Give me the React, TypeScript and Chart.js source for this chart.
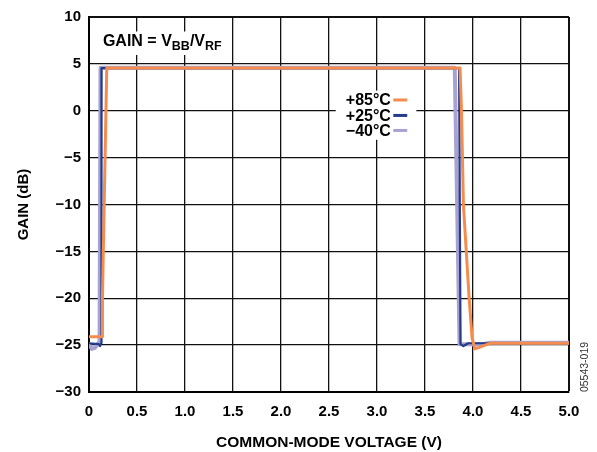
import React, { useEffect, useRef } from "react";
import { Chart, registerables } from "chart.js";
Chart.register(...registerables);

// Tick values and labels
const xTickValues = [0, 0.5, 1.0, 1.5, 2.0, 2.5, 3.0, 3.5, 4.0, 4.5, 5.0];
const xTickLabels = ["0", "0.5", "1.0", "1.5", "2.0", "2.5", "3.0", "3.5", "4.0", "4.5", "5.0"];
const yTickValues = [10, 5, 0, -5, -10, -15, -20, -25, -30];
const yTickLabels = ["10", "5", "0", "\u22125", "\u221210", "\u221215", "\u221220", "\u221225", "\u221230"];

// Series: +85°C
const t85X = [0, 0.14, 0.14, 0.185, 3.865, 3.88, 3.9, 3.96, 3.99, 4.02, 4.1, 4.18, 5.0];
const t85Y = [-24.1, -24.1, -20, 4.55, 4.55, 0, -10, -20, -24.2, -25.4, -25.1, -24.8, -24.8];
// Series: +25°C
const t25X = [0, 0.1, 0.115, 0.125, 0.13, 3.855, 3.87, 3.9, 3.95, 5.0];
const t25Y = [-24.8, -24.9, -25.1, -24.8, 4.55, 4.55, -24.9, -25.1, -24.8, -24.8];
// Series: −40°C
const tm40X = [0, 0.03, 0.06, 0.09, 0.11, 0.12, 3.81, 3.86, 4.1, 4.18, 5.0];
const tm40Y = [-24.9, -25.4, -25.3, -24.9, -24.6, 4.58, 4.58, -24.9, -24.9, -24.75, -24.75];

const seriesNames = ["+85\u00B0C", "+25\u00B0C", "\u221240\u00B0C"];
const seriesColors = ["#F58B4C", "#233C8C", "#A8A2D2"];

const toPts = (xs: number[], ys: number[]) => xs.map((x, i) => ({ x, y: ys[i] }));

const FONT = "'Liberation Sans', Arial, sans-serif";

const annotPlugin = {
  id: "annot",
  beforeDatasetsDraw(chart: any) {
    const { ctx } = chart;
    const xs = chart.scales.x;
    const ys = chart.scales.y;
    ctx.save();
    // Gain formula box
    ctx.fillStyle = "#ffffff";
    const gx0 = xs.getPixelForValue(0.06);
    const gx1 = xs.getPixelForValue(1.47);
    const gy0 = ys.getPixelForValue(8.45);
    const gy1 = ys.getPixelForValue(5.95);
    ctx.fillRect(gx0, gy0, gx1 - gx0, gy1 - gy0);
    // Legend box
    const lx0 = xs.getPixelForValue(2.57);
    const lx1 = xs.getPixelForValue(3.41);
    const ly0 = ys.getPixelForValue(2.15);
    const ly1 = ys.getPixelForValue(-3.1);
    ctx.fillRect(lx0, ly0, lx1 - lx0, ly1 - ly0);

    // Gain formula text
    ctx.fillStyle = "#000";
    ctx.textBaseline = "alphabetic";
    ctx.textAlign = "left";
    let tx = xs.getPixelForValue(0.145);
    const base = ys.getPixelForValue(6.95);
    const big = `bold 16px ${FONT}`;
    const small = `bold 12.5px ${FONT}`;
    const parts: [string, boolean][] = [["GAIN = V", false], ["BB", true], ["/V", false], ["RF", true]];
    for (const [t, sub] of parts) {
      ctx.font = sub ? small : big;
      ctx.fillText(t, tx, sub ? base + 4.5 : base);
      tx += ctx.measureText(t).width;
    }

    // Legend
    const rows = [1.15, -0.5, -2.1];
    ctx.font = `bold 16px ${FONT}`;
    ctx.textAlign = "right";
    ctx.textBaseline = "middle";
    const textRight = xs.getPixelForValue(3.145);
    const segA = xs.getPixelForValue(3.17);
    const segB = xs.getPixelForValue(3.315);
    rows.forEach((rv, i) => {
      const py = ys.getPixelForValue(rv);
      ctx.fillStyle = "#000";
      ctx.fillText(seriesNames[i], textRight, py + 1);
      ctx.strokeStyle = seriesColors[i];
      ctx.lineWidth = 3;
      ctx.beginPath();
      ctx.moveTo(segA, py);
      ctx.lineTo(segB, py);
      ctx.stroke();
    });
    ctx.restore();
  },
  afterDraw(chart: any) {
    const { ctx } = chart;
    ctx.save();
    ctx.translate(585, 367);
    ctx.rotate(-Math.PI / 2);
    ctx.font = `10.5px ${FONT}`;
    ctx.fillStyle = "#333";
    ctx.textAlign = "center";
    ctx.textBaseline = "middle";
    ctx.fillText("05543-019", 0, 0);
    ctx.restore();
  },
};

export default function App() {
  const ref = useRef<HTMLCanvasElement>(null);
  useEffect(() => {
    const chart = new Chart(ref.current as HTMLCanvasElement, {
      type: "scatter",
      data: {
        datasets: [
          { label: seriesNames[0], data: toPts(t85X, t85Y), borderColor: seriesColors[0], borderWidth: 3, order: 0 },
          { label: seriesNames[1], data: toPts(t25X, t25Y), borderColor: seriesColors[1], borderWidth: 2.2, order: 1 },
          { label: seriesNames[2], data: toPts(tm40X, tm40Y), borderColor: seriesColors[2], borderWidth: 4, order: 2 },
        ].map((d) => ({
          ...d,
          showLine: true,
          pointRadius: 0,
          tension: 0,
          fill: false,
          borderJoinStyle: "round" as const,
          borderCapStyle: "round" as const,
          backgroundColor: d.borderColor,
        })),
      },
      options: {
        animation: false,
        responsive: false,
        events: [],
        layout: { padding: { left: 0, right: 28, top: 9, bottom: 0 } },
        plugins: { legend: { display: false }, tooltip: { enabled: false } },
        scales: {
          x: {
            type: "linear",
            min: 0,
            max: 5,
            afterBuildTicks: (s: any) => {
              s.ticks = xTickValues.map((v) => ({ value: v }));
            },
            afterFit: (s: any) => {
              s.height = 60;
            },
            ticks: {
              autoSkip: false,
              maxRotation: 0,
              padding: 11,
              color: "#000",
              font: { family: FONT, size: 15, weight: "bold" },
              callback: (v: any) => {
                const i = xTickValues.indexOf(Number(v));
                return i >= 0 ? xTickLabels[i] : "";
              },
            },
            grid: {
              color: "#111",
              lineWidth: (c: any) => (c.tick && c.tick.value === 5 ? 2 : 1.3),
              drawTicks: false,
            },
            border: { color: "#000", width: 2 },
            title: {
              display: true,
              text: "COMMON-MODE VOLTAGE (V)",
              color: "#000",
              font: { family: FONT, size: 15.5, weight: "bold" },
              padding: { top: 0, bottom: 0 },
            },
          },
          y: {
            type: "linear",
            min: -30,
            max: 10,
            afterBuildTicks: (s: any) => {
              s.ticks = yTickValues.map((v) => ({ value: v }));
            },
            afterFit: (s: any) => {
              s.width = 89;
            },
            ticks: {
              autoSkip: false,
              padding: 8,
              color: "#000",
              font: { family: FONT, size: 15, weight: "bold" },
              callback: (v: any) => {
                const i = yTickValues.indexOf(Number(v));
                return i >= 0 ? yTickLabels[i] : "";
              },
            },
            grid: {
              color: "#111",
              lineWidth: (c: any) => (c.tick && c.tick.value === 10 ? 2 : 1.3),
              drawTicks: false,
            },
            border: { color: "#000", width: 2 },
            title: {
              display: true,
              text: "GAIN (dB)",
              color: "#000",
              font: { family: FONT, size: 15, weight: "bold" },
              padding: { top: 15, bottom: 0 },
            },
          },
        },
      },
      plugins: [annotPlugin],
    } as any);
    return () => chart.destroy();
  }, []);
  return (
    <div style={{ position: "absolute", left: 0, top: 0, width: 597, height: 452, background: "#fff" }}>
      <canvas ref={ref} width={597} height={452} style={{ display: "block" }} />
    </div>
  );
}
